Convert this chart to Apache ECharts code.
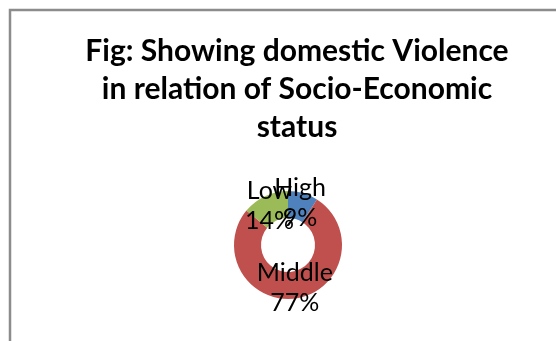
<!DOCTYPE html>
<html>
<head>
<meta charset="utf-8">
<script src="https://cdn.jsdelivr.net/npm/echarts@6/dist/echarts.min.js"></script>
<style>
  html, body { margin: 0; padding: 0; background: #fff; }
  #chart { width: 556px; height: 341px; }
</style>
</head>
<body>
<div id="chart"></div>
<script>
// Socio-economic status categories and their share of domestic violence cases (%)
const categories = ['High', 'Middle', 'Low'];
const shares = [9, 77, 14];
const sliceColors = ['#4F81BD', '#C0504D', '#9BBB59'];

const titleLines = ['Fig: Showing domestic Violence', 'in relation of Socio-Economic', 'status'];

const chart = echarts.init(document.getElementById('chart'), null, { renderer: 'canvas' });

chart.setOption({
  animation: false,
  backgroundColor: '#ffffff',
  graphic: [{
    type: 'rect',
    shape: { x: 10, y: 10, width: 600, height: 400 },
    style: { fill: 'none', stroke: '#8c8c8c', lineWidth: 2.5 },
    silent: true
  }],
  title: {
    text: titleLines.join('\n'),
    left: 292,
    textAlign: 'center',
    top: 27,
    textStyle: {
      fontFamily: 'Lato',
      fontWeight: 'bold',
      fontSize: 30,
      lineHeight: 38,
      color: '#000'
    }
  },
  series: [{
    type: 'pie',
    center: [288, 245],
    radius: [27, 54],
    startAngle: 90,
    clockwise: true,
    silent: true,
    avoidLabelOverlap: false,
    label: {
      show: true,
      position: 'inside',
      formatter: p => p.name + '\n' + p.value + '%',
      fontFamily: 'Lato',
      fontSize: 25,
      lineHeight: 30,
      color: '#000'
    },
    labelLayout: { hideOverlap: false },
    labelLine: { show: false },
    itemStyle: { borderWidth: 0 },
    data: categories.map((c, i) => ({
      name: c,
      value: shares[i],
      itemStyle: { color: sliceColors[i] }
    }))
  }]
});
</script>
</body>
</html>
